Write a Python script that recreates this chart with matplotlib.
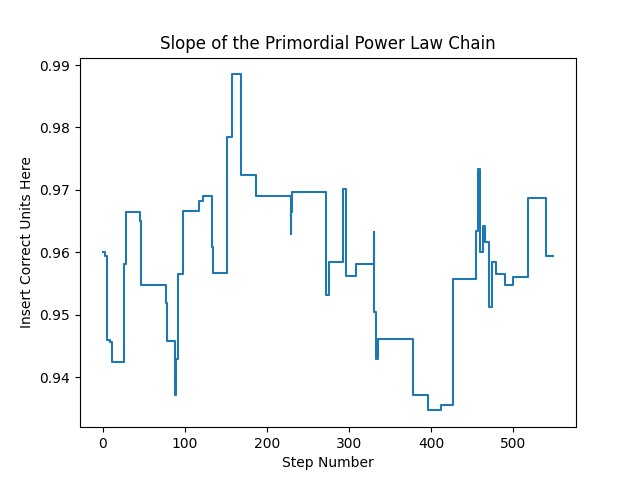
import matplotlib
matplotlib.use('Agg')
import matplotlib.pyplot as plt

# chain values at the steps where they change (held until the next step)
change_steps = [0, 3, 5, 9, 12, 26, 28, 46, 47, 77, 79, 88, 90, 92, 98,
                117, 122, 133, 135, 151, 158, 169, 187, 229, 230, 231,
                272, 276, 293, 297, 309, 330, 331, 333, 335, 378, 396,
                412, 427, 455, 457, 459, 463, 466, 471, 474, 479, 490,
                500, 518, 540, 549]
slope_vals = [0.9601, 0.9595, 0.9460, 0.9456, 0.9424, 0.9581, 0.9665,
              0.9650, 0.9547, 0.9519, 0.9458, 0.9371, 0.9430, 0.9565,
              0.9666, 0.9682, 0.9690, 0.9608, 0.9567, 0.9785, 0.9885,
              0.9724, 0.9690, 0.9629, 0.9665, 0.9696, 0.9532, 0.9585,
              0.9702, 0.9562, 0.9581, 0.9633, 0.9504, 0.9430, 0.9461,
              0.9372, 0.9347, 0.9355, 0.9558, 0.9635, 0.9734, 0.9601,
              0.9642, 0.9617, 0.9513, 0.9584, 0.9565, 0.9547, 0.9560,
              0.9687, 0.9595, 0.9595]

fig = plt.figure(figsize=(6.4, 4.8), dpi=100)
plt.plot(change_steps, slope_vals, drawstyle='steps-post')
plt.title('Slope of the Primordial Power Law Chain')
plt.xlabel('Step Number')
plt.ylabel('Insert Correct Units Here')
plt.savefig('out.png')
